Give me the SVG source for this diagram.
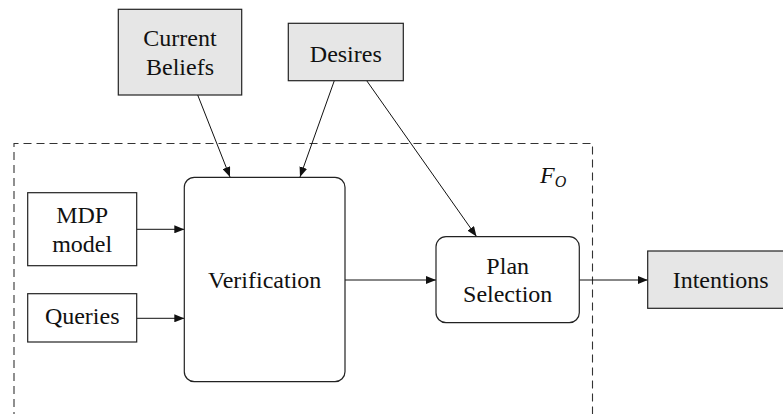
<svg xmlns="http://www.w3.org/2000/svg" width="783" height="414" viewBox="0 0 783 414">
  <style>
    text { font-family: "Liberation Serif", serif; fill: #111; }
    .lbl { font-size: 24px; text-anchor: middle; }
    .ext { fill: #e6e6e6; stroke: #222; stroke-width: 1.2; }
    .plain { fill: #fff; stroke: #222; stroke-width: 1.2; }
    .edge { stroke: #111; stroke-width: 1; fill: none; marker-end: url(#arr); }
    .frame { fill: none; stroke: #333; stroke-width: 1.1; stroke-dasharray: 8 5; }
  </style>
  <defs>
    <marker id="arr" viewBox="0 0 10 8" refX="10" refY="4" markerWidth="10" markerHeight="8" markerUnits="userSpaceOnUse" orient="auto">
      <path d="M0,0 L10,4 L0,8 Z" fill="#111"/>
    </marker>
  </defs>

  <rect width="783" height="414" fill="#fff"/>

  <!-- dashed boundary of the F_O block -->
  <g id="frame">
    <path class="frame" d="M14,420 L14,143.5 L592.5,143.5 L592.5,420"/>
    <text x="540" y="183" font-size="24" font-style="italic">F<tspan font-size="16" dy="4">O</tspan></text>
  </g>

  <g id="connectors">
    <line class="edge" x1="197.7" y1="95" x2="230" y2="177"/>
    <line class="edge" x1="334.3" y1="80.7" x2="300" y2="177"/>
    <line class="edge" x1="366.7" y1="80.7" x2="476.5" y2="236.5"/>
    <line class="edge" x1="136.7" y1="229.3" x2="184.3" y2="229.3"/>
    <line class="edge" x1="136.7" y1="318.3" x2="184.3" y2="318.3"/>
    <line class="edge" x1="345" y1="280" x2="436" y2="280"/>
    <line class="edge" x1="579.3" y1="280" x2="647.7" y2="280"/>
  </g>

  <g id="current-beliefs">
    <rect class="ext" x="118.3" y="9.3" width="123.4" height="85.7"/>
    <text class="lbl" x="180" y="46">Current</text>
    <text class="lbl" x="180" y="75">Beliefs</text>
  </g>

  <g id="desires">
    <rect class="ext" x="288.3" y="23.3" width="115" height="57.4"/>
    <text class="lbl" x="345.8" y="61.7">Desires</text>
  </g>

  <g id="mdp-model">
    <rect class="plain" x="27.7" y="192.7" width="109" height="73"/>
    <text class="lbl" x="82.2" y="223.3">MDP</text>
    <text class="lbl" x="82.2" y="251.7">model</text>
  </g>

  <g id="queries">
    <rect class="plain" x="27.7" y="293.7" width="109" height="48.3"/>
    <text class="lbl" x="82.2" y="324">Queries</text>
  </g>

  <g id="verification">
    <rect class="plain" x="184.3" y="177.3" width="160.7" height="204.4" rx="10" ry="10"/>
    <text class="lbl" x="264.7" y="288.3">Verification</text>
  </g>

  <g id="plan-selection">
    <rect class="plain" x="436" y="236.7" width="143.3" height="86" rx="10" ry="10"/>
    <text class="lbl" x="507.7" y="274.3">Plan</text>
    <text class="lbl" x="507.7" y="302.3">Selection</text>
  </g>

  <g id="intentions">
    <rect class="ext" x="647.7" y="251" width="146" height="57.3"/>
    <text class="lbl" x="720.7" y="288.3">Intentions</text>
  </g>
</svg>
